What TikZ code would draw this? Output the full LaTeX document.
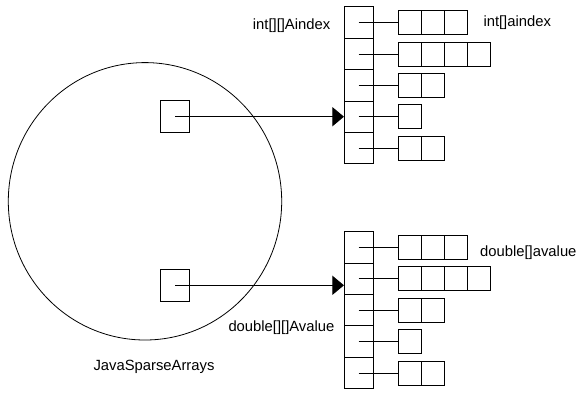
\documentclass[tikz,border=0pt]{standalone}
\usepackage{fontspec}
\setmainfont{Liberation Sans}
\usetikzlibrary{arrows.meta}

\tikzset{
    slot/.style={draw, line width=0.9pt, minimum width=28.6pt, minimum height=31.4pt, inner sep=0pt},
    cell/.style={draw, line width=0.9pt, minimum width=23pt, minimum height=24pt, inner sep=0pt},
    ptr/.style={draw, line width=0.9pt, minimum width=28.6pt, minimum height=32pt, inner sep=0pt},
    ref/.style={line width=0.9pt, -{Triangle[length=11.5pt,width=19pt]}},
    lbl/.style={anchor=base west, inner sep=0pt, font=\fontsize{14.8}{17}\selectfont},
}

\begin{document}
\begin{tikzpicture}[x=1pt, y=-1pt]
        \useasboundingbox (0,0) rectangle (582,392);
        % the object holding both references
        \draw[line width=0.8pt] (145,201.3) ellipse [x radius=136.7pt, y radius=138.7pt];
        \node[ptr](pa) at (175,116.7) {};
        \node[ptr](pv) at (175,285.3) {};
        % outer arrays and the rows they point to
        \foreach \b/\top in {aindex/6.9, avalue/231.7} {
            \foreach \r/\n in {1/3, 2/4, 3/2, 4/1, 5/2} {
                \node[slot](\b-\r) at (358.7,\top+\r*31.4-15.7) {};
                \foreach \k in {1,...,\n}
                    \node[cell](\b-\r-\k) at (387.3+\k*23,\top+\r*31.4-15.7) {};
                \draw[line width=0.9pt] (\b-\r.center) -- (\b-\r-1.west);
            }
        }
        \draw[ref] (pa.center) -- (pa.center -| aindex-4.west);
        \draw[ref] (pv.center) -- (pv.center -| avalue-2.west);
        % names
        \node[lbl](tA) at (252.7,29.3)  {int[][]Aindex};
        \node[lbl](ta) at (483.3,26.7)  {int[]aindex};
        \node[lbl](tv) at (480,256.7)   {double[]avalue};
        \node[lbl](tV) at (228.3,331.7) {double[][]Avalue};
        \node[lbl](tj) at (93.3,370)    {JavaSparseArrays};
\end{tikzpicture}
\end{document}
